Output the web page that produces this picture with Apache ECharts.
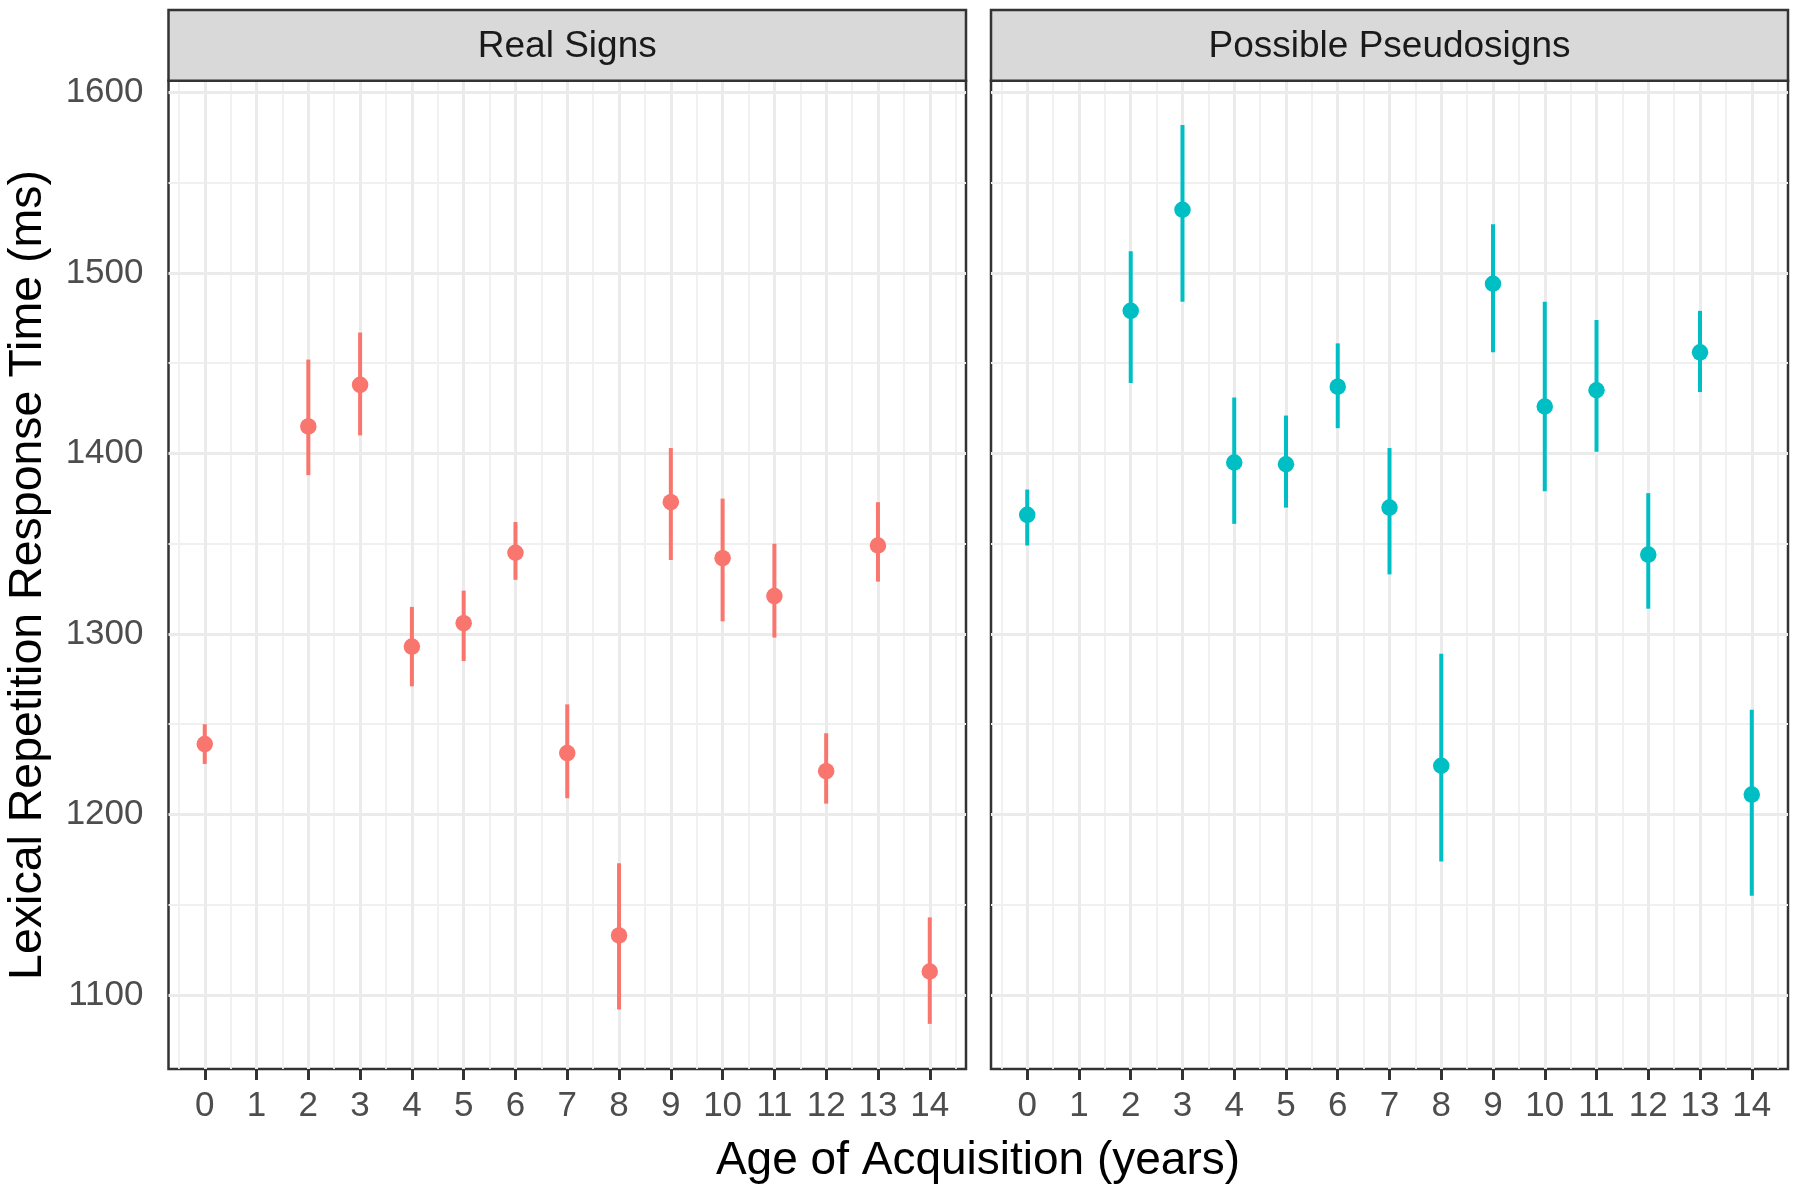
<!DOCTYPE html>
<html>
<head>
<meta charset="utf-8">
<script src="https://cdn.jsdelivr.net/npm/echarts@6/dist/echarts.min.js"></script>
<style>
  html, body { margin: 0; padding: 0; background: #fff; }
  #chart { width: 1800px; height: 1190px; }
</style>
</head>
<body>
<div id="chart"></div>
<script>
// age of acquisition (no items at age 1)
var ages = [0, 2, 3, 4, 5, 6, 7, 8, 9, 10, 11, 12, 13, 14];

// Real Signs
var realMean = [1239, 1415, 1438, 1293, 1306, 1345, 1234, 1133, 1373, 1342, 1321, 1224, 1349, 1113];
var realLow  = [1228, 1388, 1410, 1271, 1285, 1330, 1209, 1092, 1341, 1307, 1298, 1206, 1329, 1084];
var realHigh = [1250, 1452, 1467, 1315, 1324, 1362, 1261, 1173, 1403, 1375, 1350, 1245, 1373, 1143];

// Possible Pseudosigns
var pseudoMean = [1366, 1479, 1535, 1395, 1394, 1437, 1370, 1227, 1494, 1426, 1435, 1344, 1456, 1211];
var pseudoLow  = [1349, 1439, 1484, 1361, 1370, 1414, 1333, 1174, 1456, 1379, 1401, 1314, 1434, 1155];
var pseudoHigh = [1380, 1512, 1582, 1431, 1421, 1461, 1403, 1289, 1527, 1484, 1474, 1378, 1479, 1258];

var xTicks = [0, 1, 2, 3, 4, 5, 6, 7, 8, 9, 10, 11, 12, 13, 14];
var xMinor = [-0.5, 0.5, 1.5, 2.5, 3.5, 4.5, 5.5, 6.5, 7.5, 8.5, 9.5, 10.5, 11.5, 12.5, 13.5, 14.5];
var yTicks = [1100, 1200, 1300, 1400, 1500, 1600];
var yMinor = [1150, 1250, 1350, 1450, 1550];

var FONT = '"Liberation Sans", Arial, Helvetica, sans-serif';
var TOP = 80.7, BOTTOM = 121, STRIP_TOP = 10;

var panels = [
  { name: 'Real Signs', color: '#F8766D', mean: realMean, low: realLow, high: realHigh, x0: 168.5, x1: 966 },
  { name: 'Possible Pseudosigns', color: '#00BFC4', mean: pseudoMean, low: pseudoLow, high: pseudoHigh, x0: 991, x1: 1788 }
];

var grids = [], xAxes = [], yAxes = [], series = [], graphics = [];

panels.forEach(function (p, i) {
  grids.push({
    left: p.x0, right: 1800 - p.x1, top: TOP, bottom: BOTTOM,
    show: true, backgroundColor: '#fff', borderColor: '#333333', borderWidth: 2.5
  });

  xAxes.push({
    gridIndex: i, type: 'value', min: -0.7, max: 14.7,
    axisLine: { show: false },
    splitLine: { show: false },
    axisTick: { show: true, customValues: xTicks, length: 11, lineStyle: { color: '#333333', width: 3 } },
    axisLabel: { show: true, customValues: xTicks, fontSize: 35, color: '#4D4D4D', margin: 20, fontFamily: FONT,
                 formatter: function (v) { return String(v); } }
  });

  yAxes.push({
    gridIndex: i, type: 'value', min: 1059, max: 1606.5,
    axisLine: { show: false },
    splitLine: { show: false },
    axisTick: { show: i === 0, customValues: yTicks, length: 11, lineStyle: { color: '#333333', width: 3 } },
    axisLabel: { show: i === 0, customValues: yTicks, fontSize: 35, color: '#4D4D4D', margin: 25, fontFamily: FONT,
                 formatter: function (v) { return String(v); } }
  });

  // panel gridlines
  var lines = [];
  xMinor.forEach(function (v) { lines.push({ xAxis: v, lineStyle: { color: '#F0F0F0', width: 1.8, type: 'solid' } }); });
  yMinor.forEach(function (v) { lines.push({ yAxis: v, lineStyle: { color: '#F0F0F0', width: 1.8, type: 'solid' } }); });
  xTicks.forEach(function (v) { lines.push({ xAxis: v, lineStyle: { color: '#EBEBEB', width: 3, type: 'solid' } }); });
  yTicks.forEach(function (v) { lines.push({ yAxis: v, lineStyle: { color: '#EBEBEB', width: 3, type: 'solid' } }); });
  series.push({
    type: 'line', xAxisIndex: i, yAxisIndex: i, data: [], z: 1, silent: true,
    markLine: {
      z: 1, silent: true, symbol: ['none', 'none'], animation: false,
      label: { show: false }, emphasis: { disabled: true },
      data: lines
    }
  });

  // error bars
  series.push({
    type: 'custom', xAxisIndex: i, yAxisIndex: i, z: 3, silent: true,
    encode: { x: 0, y: [1, 2] },
    data: ages.map(function (a, k) { return [a, p.low[k], p.high[k]]; }),
    renderItem: (function (col) {
      return function (params, api) {
        var lo = api.coord([api.value(0), api.value(1)]);
        var hi = api.coord([api.value(0), api.value(2)]);
        return {
          type: 'line',
          shape: { x1: lo[0], y1: lo[1], x2: hi[0], y2: hi[1] },
          style: { stroke: col, lineWidth: 4 }
        };
      };
    })(p.color)
  });

  // means
  series.push({
    type: 'scatter', xAxisIndex: i, yAxisIndex: i, z: 4, silent: true,
    symbol: 'circle', symbolSize: 16.5,
    itemStyle: { color: p.color, opacity: 1 },
    data: ages.map(function (a, k) { return [a, p.mean[k]]; })
  });

  // facet strip
  graphics.push({
    type: 'rect', z: 10,
    shape: { x: p.x0, y: STRIP_TOP, width: p.x1 - p.x0, height: TOP - STRIP_TOP },
    style: { fill: '#D9D9D9', stroke: '#333333', lineWidth: 2.5 }
  });
  graphics.push({
    type: 'text', z: 11,
    x: (p.x0 + p.x1) / 2, y: (STRIP_TOP + TOP) / 2 + 1,
    style: { text: p.name, font: '37px ' + FONT, fill: '#1A1A1A', align: 'center', verticalAlign: 'middle' }
  });
});

// axis titles
graphics.push({
  type: 'text', z: 11, x: 978, y: 1161,
  style: { text: 'Age of Acquisition (years)', font: '46px ' + FONT, fill: '#000', align: 'center', verticalAlign: 'middle' }
});
graphics.push({
  type: 'text', z: 11, x: 28, y: 575, rotation: Math.PI / 2,
  style: { text: 'Lexical Repetition Response Time (ms)', font: '46.5px ' + FONT, fill: '#000', align: 'center', verticalAlign: 'middle' }
});

var chart = echarts.init(document.getElementById('chart'), null, { renderer: 'canvas' });
chart.setOption({
  animation: false,
  backgroundColor: '#fff',
  grid: grids,
  xAxis: xAxes,
  yAxis: yAxes,
  series: series,
  graphic: graphics
});
</script>
</body>
</html>
